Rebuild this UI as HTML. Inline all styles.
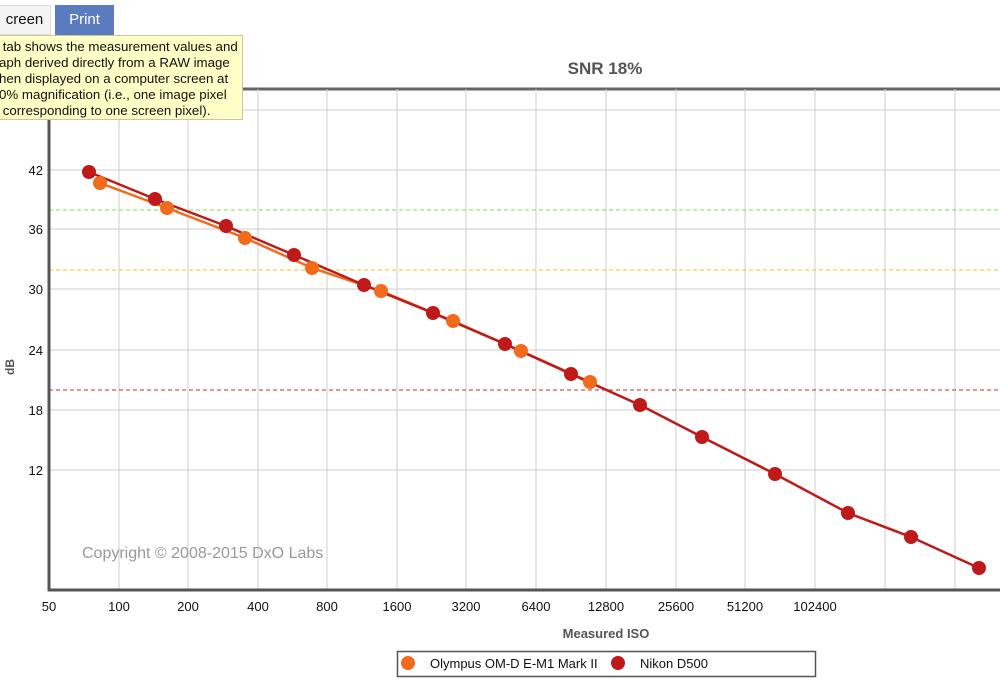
<!DOCTYPE html>
<html><head><meta charset="utf-8"><style>
body{margin:0;width:1000px;height:691px;background:#fff;font-family:"Liberation Sans",sans-serif;position:relative;overflow:hidden}
.tab{position:absolute;top:5px;height:28px;line-height:28px;font-size:15px;text-align:center;border:1px solid #ddd}
.tip{position:absolute;left:-2px;top:35px;width:245px;height:85px;background:#ffffc6;border:1px solid #c8c8a0;font-size:13.3px;line-height:16px;padding:3px 0 0 0;box-sizing:border-box;white-space:nowrap;overflow:hidden;color:#111}
</style></head><body>
<svg width="1000" height="691" style="position:absolute;left:0;top:0" font-family="Liberation Sans, sans-serif">
<text x="605" y="74" font-size="17" font-weight="bold" fill="#555" text-anchor="middle">SNR 18%</text>
<line x1="49" y1="89" x2="1000" y2="89" stroke="#666" stroke-width="3"/>
<g stroke="#ccc" stroke-width="1">
<line x1="49" y1="110" x2="1000" y2="110"/><line x1="49" y1="170" x2="1000" y2="170"/><line x1="49" y1="229" x2="1000" y2="229"/><line x1="49" y1="289" x2="1000" y2="289"/><line x1="49" y1="350" x2="1000" y2="350"/><line x1="49" y1="410" x2="1000" y2="410"/><line x1="49" y1="470" x2="1000" y2="470"/>
<line x1="119" y1="89" x2="119" y2="590"/><line x1="188" y1="89" x2="188" y2="590"/><line x1="258" y1="89" x2="258" y2="590"/><line x1="327" y1="89" x2="327" y2="590"/><line x1="397" y1="89" x2="397" y2="590"/><line x1="466" y1="89" x2="466" y2="590"/><line x1="536" y1="89" x2="536" y2="590"/><line x1="606" y1="89" x2="606" y2="590"/><line x1="676" y1="89" x2="676" y2="590"/><line x1="745" y1="89" x2="745" y2="590"/><line x1="815" y1="89" x2="815" y2="590"/><line x1="885" y1="89" x2="885" y2="590"/><line x1="955" y1="89" x2="955" y2="590"/>
</g>
<line x1="49" y1="210" x2="1000" y2="210" stroke="#7ee04a" stroke-dasharray="4,3"/>
<line x1="49" y1="270" x2="1000" y2="270" stroke="#f5c518" stroke-dasharray="4,3"/>
<line x1="49" y1="390" x2="1000" y2="390" stroke="#e02020" stroke-dasharray="4,3"/>
<line x1="49" y1="89" x2="49" y2="591" stroke="#555" stroke-width="3"/>
<line x1="48" y1="590" x2="1000" y2="590" stroke="#555" stroke-width="3"/>
<g font-size="13" fill="#111" text-anchor="end">
<text x="43" y="175">42</text><text x="43" y="234">36</text><text x="43" y="294">30</text><text x="43" y="355">24</text><text x="43" y="415">18</text><text x="43" y="475">12</text></g>
<g font-size="13" fill="#111" text-anchor="middle">
<text x="49" y="611">50</text><text x="119" y="611">100</text><text x="188" y="611">200</text><text x="258" y="611">400</text><text x="327" y="611">800</text><text x="397" y="611">1600</text><text x="466" y="611">3200</text><text x="536" y="611">6400</text><text x="606" y="611">12800</text><text x="676" y="611">25600</text><text x="745" y="611">51200</text><text x="815" y="611">102400</text></g>
<text x="606" y="638" font-size="13" font-weight="bold" fill="#555" text-anchor="middle">Measured ISO</text>
<text transform="translate(14,367) rotate(-90)" font-size="12" font-weight="bold" fill="#555" text-anchor="middle">dB</text>
<text x="82" y="558" font-size="16" fill="#999">Copyright © 2008-2015 DxO Labs</text>
<polyline fill="none" stroke="#f26b1d" stroke-width="2.5" points="100,183 167,208 245,238 312,268 381,291 453,321 521,351 590,382"/>
<polyline fill="none" stroke="#c0191a" stroke-width="2.5" points="89,172 155,199 226,226 294,255 364,285 433,313 505,344 571,374 640,405 702,437 775,474 848,513 911,537 979,568"/>
<g fill="#f26b1d"><circle cx="100" cy="183" r="7"/><circle cx="167" cy="208" r="7"/><circle cx="245" cy="238" r="7"/><circle cx="312" cy="268" r="7"/><circle cx="381" cy="291" r="7"/><circle cx="453" cy="321" r="7"/><circle cx="521" cy="351" r="7"/><circle cx="590" cy="382" r="7"/></g>
<g fill="#c0191a"><circle cx="89" cy="172" r="7"/><circle cx="155" cy="199" r="7"/><circle cx="226" cy="226" r="7"/><circle cx="294" cy="255" r="7"/><circle cx="364" cy="285" r="7"/><circle cx="433" cy="313" r="7"/><circle cx="505" cy="344" r="7"/><circle cx="571" cy="374" r="7"/><circle cx="640" cy="405" r="7"/><circle cx="702" cy="437" r="7"/><circle cx="775" cy="474" r="7"/><circle cx="848" cy="513" r="7"/><circle cx="911" cy="537" r="7"/><circle cx="979" cy="568" r="7"/></g>
<rect x="397.5" y="651.5" width="418" height="25" fill="#fff" stroke="#555" stroke-width="1.5"/>
<circle cx="408" cy="663" r="7" fill="#f26b1d"/><text x="430" y="668" font-size="13" fill="#111">Olympus OM-D E-M1 Mark II</text>
<circle cx="618" cy="663" r="7" fill="#c0191a"/><text x="640" y="668" font-size="13" fill="#111">Nikon D500</text>
</svg>
<div class="tab" style="left:-2px;width:51px;background:#f4f4f4;color:#111">creen</div>
<div class="tab" style="left:55px;width:57px;background:#5b7bbf;color:#fff;border-color:#5b7bbf">Print</div>
<div class="tip">&nbsp;tab shows the measurement values and<br>aph derived directly from a RAW image<br>hen displayed on a computer screen at<br>0% magnification (i.e., one image pixel<br>&nbsp;corresponding to one screen pixel).</div>
</body></html>
